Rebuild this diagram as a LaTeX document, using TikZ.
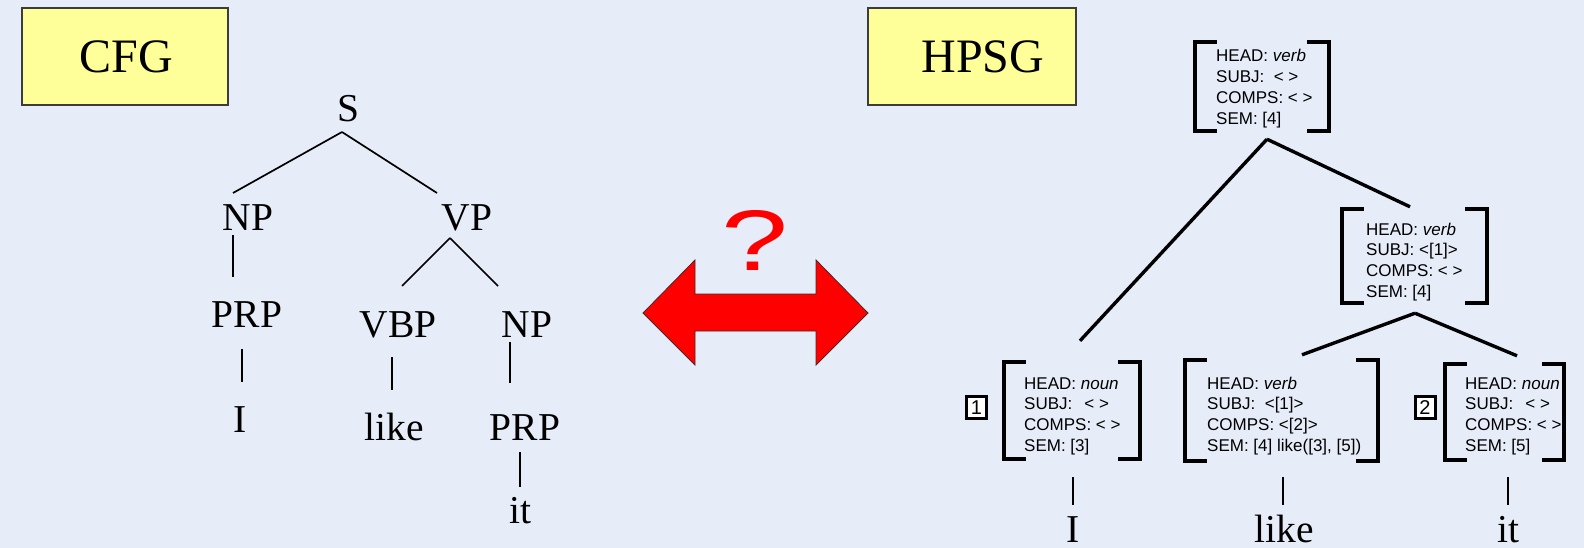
\documentclass[tikz,border=0pt]{standalone}
\usepackage{fontspec}
\setmainfont{Liberation Serif}
\newfontfamily\avmfont{Liberation Sans}
\usetikzlibrary{calc}

\definecolor{slidebg}{RGB}{231,237,248}
\definecolor{labelfill}{RGB}{255,255,153}
\definecolor{labeledge}{RGB}{60,60,60}
\definecolor{arrowedge}{RGB}{70,40,40}

% square brackets round an attribute-value matrix frame node
\newcommand\avmbrackets[1]{%
  \draw[bracketline] ($(#1.north west)+(22,0)$) -- (#1.north west) -- (#1.south west) -- ++(22,0);
  \draw[bracketline] ($(#1.north east)+(-22,0)$) -- (#1.north east) -- (#1.south east) -- ++(-22,0);}

\begin{document}
\begin{tikzpicture}[x=1pt,y=-1pt,
  titlebox/.style={draw=labeledge, line width=1.6pt, fill=labelfill,
    minimum height=97pt, inner sep=0pt},
  titletext/.style={font=\fontsize{48}{52}\selectfont, inner sep=0pt, anchor=base},
  cat/.style={font=\fontsize{39.5}{44}\selectfont, inner sep=0pt, anchor=base},
  cfgedge/.style={line width=1.7pt},
  hpsgedge/.style={line width=3.4pt},
  wordedge/.style={line width=2pt},
  frame/.style={inner sep=0pt},
  bracketline/.style={line width=4pt, line join=miter},
  avmtext/.style={font=\avmfont\fontsize{17}{20.8}\selectfont, anchor=base west, inner sep=0pt},
  tagbox/.style={draw, line width=3pt, fill=white, minimum width=20pt,
    minimum height=22pt, inner sep=0pt, font=\avmfont\fontsize{20}{22}\selectfont},
]
\useasboundingbox (0,0) rectangle (1584,548);
\fill[slidebg] (0,0) rectangle (1584,548);

% ---------- titles ----------
\node[titlebox, minimum width=206pt] (cfgbox) at (125,56.5) {};
\node[titletext] (cfgtitle) at (126,73) {CFG};
\node[titlebox, minimum width=208pt] (hpsgbox) at (972,56.5) {};
\node[titletext] (hpsgtitle) at (983,73) {HPSG};

% ---------- phrase-structure tree ----------
\node[cat] (s) at (348,122) {S};
\node[cat] (np) at (248,230) {NP};
\node[cat] (vp) at (467,230) {VP};
\node[cat] (prp) at (247,327) {PRP};
\node[cat] (vbp) at (398,337) {VBP};
\node[cat] (np2) at (527,337) {NP};
\node[cat] (w-i) at (240,432) {I};
\node[cat] (w-like) at (394,440) {like};
\node[cat] (prp2) at (525,440) {PRP};
\node[cat] (w-it) at (520,523) {it};

\draw[cfgedge] ($(s.base)+(-6,10)$) -- ($(np.base)+(-15,-37)$);
\draw[cfgedge] ($(s.base)+(-6,10)$) -- ($(vp.base)+(-30,-37)$);
\draw[cfgedge] ($(np.base)+(-15,5)$) -- ($(prp.base)+(-14,-50)$);
\draw[cfgedge] ($(prp.base)+(-5,22)$) -- ($(w-i.base)+(2,-50)$);
\draw[cfgedge] ($(vp.base)+(-17,8)$) -- ($(vbp.base)+(4,-51)$);
\draw[cfgedge] ($(vp.base)+(-17,8)$) -- ($(np2.base)+(-29,-51)$);
\draw[cfgedge] ($(vbp.base)+(-6,20)$) -- ($(w-like.base)+(-2,-50)$);
\draw[cfgedge] ($(np2.base)+(-17,5)$) -- ($(prp2.base)+(-15,-57)$);
\draw[cfgedge] ($(prp2.base)+(-5,12)$) -- ($(w-it.base)+(0,-36)$);

% ---------- double arrow with question mark ----------
\filldraw[fill=red, draw=arrowedge, line width=0.8pt, line join=miter]
  (643,313) -- (695,260) -- (695,294) -- (816,294) -- (816,260) -- (868,313)
  -- (816,365) -- (816,331) -- (695,331) -- (695,365) -- cycle;
\node[text=red, font=\avmfont\fontsize{86}{90}\selectfont, inner sep=0pt] (qmark)
  at (755,240) {\scalebox{1.4}[1]{?}};

% ---------- HPSG feature structures ----------
\node[frame, minimum width=134pt, minimum height=89pt] (top) at (1262,86.5) {};
\node[frame, minimum width=145pt, minimum height=94pt] (mid) at (1414.5,256) {};
\node[frame, minimum width=136pt, minimum height=97pt] (b1) at (1072,410.5) {};
\node[frame, minimum width=193pt, minimum height=101pt] (b2) at (1281.5,410.5) {};
\node[frame, minimum width=119pt, minimum height=96pt] (b3) at (1504.5,412) {};
\avmbrackets{top}
\avmbrackets{mid}
\avmbrackets{b1}
\avmbrackets{b2}
\avmbrackets{b3}

\node[avmtext] (top-f) at (1216,62) {\begin{tabular}[t]{@{}l@{}}
  HEAD: \textit{verb}\\ SUBJ:\ \ < >\\ COMPS: < >\\ SEM: [4]\end{tabular}};
\node[avmtext] (mid-f) at (1366,235) {\begin{tabular}[t]{@{}l@{}}
  HEAD: \textit{verb}\\ SUBJ: <[1]>\\ COMPS: < >\\ SEM: [4]\end{tabular}};
\node[avmtext] (b1-f) at (1024,389) {\begin{tabular}[t]{@{}l@{}}
  HEAD: \textit{noun}\\ SUBJ:\hspace{12pt}< >\\ COMPS: < >\\ SEM: [3]\end{tabular}};
\node[avmtext] (b2-f) at (1207,389) {\begin{tabular}[t]{@{}l@{}}
  HEAD: \textit{verb}\\ SUBJ:\ \ <[1]>\\ COMPS: <[2]>\\ SEM: [4] like([3], [5])\end{tabular}};
\node[avmtext] (b3-f) at (1465,389) {\begin{tabular}[t]{@{}l@{}}
  HEAD: \textit{noun}\\ SUBJ:\hspace{12pt}< >\\ COMPS: < >\\ SEM: [5]\end{tabular}};

\node[tagbox] (tag1) at (976.5,407.5) {1};
\node[tagbox] (tag2) at (1425,407.5) {2};

\draw[hpsgedge] ($(top.south)+(5,8)$) -- ($(b1.north)+(8,-21)$);
\draw[hpsgedge] ($(top.south)+(5,8)$) -- ($(mid.north)+(-4.5,-2)$);
\draw[hpsgedge] ($(mid.south)+(0.5,10)$) -- ($(b2.north)+(20.5,-5)$);
\draw[hpsgedge] ($(mid.south)+(0.5,10)$) -- ($(b3.north)+(12.5,-8)$);

% ---------- words under the HPSG leaves ----------
\node[cat] (h-i) at (1073,542) {I};
\node[cat] (h-like) at (1284,542) {like};
\node[cat] (h-it) at (1508,542) {it};
\draw[wordedge] ($(b1.south)+(1,18)$) -- ($(h-i.base)+(0,-37)$);
\draw[wordedge] ($(b2.south)+(1.5,16)$) -- ($(h-like.base)+(-1,-37)$);
\draw[wordedge] ($(b3.south)+(3.5,17)$) -- ($(h-it.base)+(0,-37)$);
\end{tikzpicture}
\end{document}
